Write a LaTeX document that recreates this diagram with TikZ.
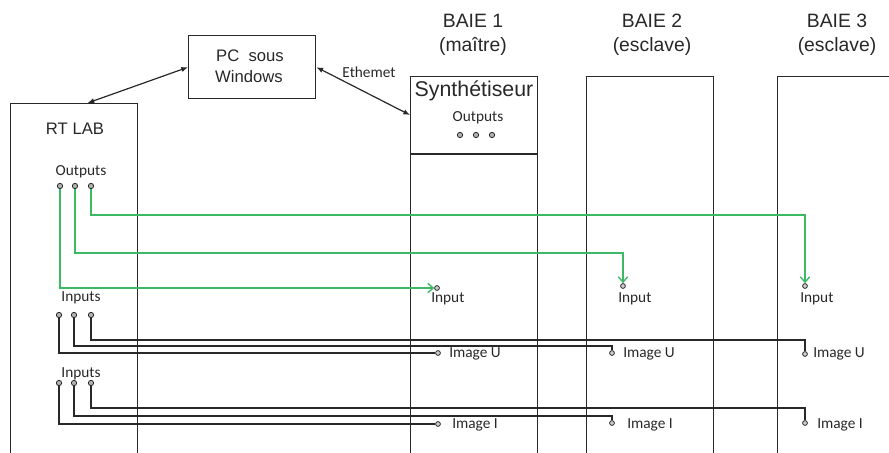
\documentclass[tikz,border=0pt]{standalone}
\usepackage{fontspec}
\setmainfont{Liberation Sans}
\newfontfamily\smallfont{Carlito}
\usetikzlibrary{arrows.meta}
\definecolor{wire}{RGB}{60,185,100}
\definecolor{ink}{RGB}{40,40,40}
\begin{document}
\begin{tikzpicture}[x=0.75pt,y=-0.75pt,
  box/.style={draw=ink, line width=1.1pt, inner sep=0pt, anchor=north west, minimum width=95.25pt},
  dot/.style={circle, draw=ink, fill=gray!60, line width=0.6pt, inner sep=0pt, minimum size=4pt},
  port/.style={circle, draw=ink, fill=gray!40, line width=0.6pt, inner sep=0pt, minimum size=3.6pt},
  big/.style={font=\fontsize{14.5pt}{17pt}\selectfont, text=ink, inner sep=0pt},
  mid/.style={font=\fontsize{12.5pt}{15pt}\selectfont, text=ink, inner sep=0pt},
  lbl/.style={font=\smallfont\fontsize{11.5pt}{13pt}\selectfont, text=ink, inner sep=0pt},
  link/.style={draw=ink, line width=0.9pt, {Latex[length=5pt,width=4pt]}-{Latex[length=5pt,width=4pt]}},
  gwire/.style={draw=wire, line width=1pt, -{Straight Barb[length=4pt,width=7pt]}},
  bwire/.style={draw=ink, line width=1pt}
]
\useasboundingbox (0,0) rectangle (889,453);
\clip (0,0) rectangle (889,453);

% boxes
\node[box, minimum height=47.25pt] (pc) at (188,35) {};
\node[box, minimum height=275.25pt] (rtlab) at (10,103) {};
\node[box, minimum height=295.5pt] (baie1) at (410,76) {};
\node[box, minimum height=295.5pt] (baie2) at (586,76) {};
\node[box, minimum height=295.5pt] (baie3) at (777,76) {};
\draw[draw=ink, line width=1pt] (baie1.west |- 0,154) coordinate (sl) -- (baie1.east |- 0,154) coordinate (sr);

% titles
\node[big, anchor=base] (t1) at (473,28) {BAIE 1};
\node[big, anchor=base] (t1b) at (473,52) {(maître)};
\node[big, anchor=base] (t2) at (652,28) {BAIE 2};
\node[big, anchor=base] (t2b) at (652,52) {(esclave)};
\node[big, anchor=base] (t3) at (837,28) {BAIE 3};
\node[big, anchor=base] (t3b) at (837,52) {(esclave)};

\node[font=\fontsize{16pt}{18pt}\selectfont, text=ink, inner sep=0pt, anchor=base] (syn) at (474,97) {Synthétiseur};
\node[lbl, anchor=base] (synout) at (478,122) {Outputs};
\node[dot] (s1) at (460,135) {};
\node[dot] (s2) at (476,135) {};
\node[dot] (s3) at (492,135) {};

\node[mid, anchor=base] (pc1) at (250,62) {PC\ \ sous};
\node[mid, anchor=base] (pc2) at (249,83) {Windows};
\node[mid, anchor=base] (rtl) at (75,134) {RT LAB};

% PC links
\draw[link] (pc.west) -- ([xshift=10pt]rtlab.north);
\draw[link] (pc.east) -- ([yshift=-29.25pt]baie1.north west);
\node[lbl, anchor=base] (eth) at (369,78) {Ethemet};

% RT LAB outputs
\node[lbl, anchor=base] (rtout) at (81,175) {Outputs};
\node[dot] (o1) at (60,186) {};
\node[dot] (o2) at (75,186) {};
\node[dot] (o3) at (91,186) {};

% inputs of baies
\node[port] (in1) at (437,288) {};
\node[port] (in2) at (623,286) {};
\node[port] (in3) at (805,286) {};
\node[lbl, anchor=base west] (il1) at (431,302) {Input};
\node[lbl, anchor=base west] (il2) at (618,302) {Input};
\node[lbl, anchor=base west] (il3) at (800,302) {Input};

\coordinate (g2) at (623,253);
\coordinate (g3) at (805,215);
\draw[gwire] (o1) |- (in1);
\draw[gwire] (o2) |- (g2) -- (in2);
\draw[gwire] (o3) |- (g3) -- (in3);

% Inputs group U
\node[lbl, anchor=base] (inU) at (81,301) {Inputs};
\node[dot] (u1) at (59,315) {};
\node[dot] (u2) at (74,315) {};
\node[dot] (u3) at (91,315) {};
\node[port] (iu1) at (438,353) {};
\node[port] (iu2) at (612,353) {};
\node[port] (iu3) at (805,354) {};
\coordinate (cu2) at (612,346);
\coordinate (cu3) at (805,340);
\draw[bwire] (u1) |- (iu1);
\draw[bwire] (u2) |- (cu2) -- (iu2);
\draw[bwire] (u3) |- (cu3) -- (iu3);
\node[lbl, anchor=base west] (lu1) at (449,357) {Image U};
\node[lbl, anchor=base west] (lu2) at (623,357) {Image U};
\node[lbl, anchor=base west] (lu3) at (813,357) {Image U};

% Inputs group I
\node[lbl, anchor=base] (inI) at (81,377) {Inputs};
\node[dot] (i1) at (59,383) {};
\node[dot] (i2) at (74,383) {};
\node[dot] (i3) at (91,383) {};
\node[port] (ii1) at (438,424) {};
\node[port] (ii2) at (612,423) {};
\node[port] (ii3) at (805,423) {};
\coordinate (ci2) at (612,416);
\coordinate (ci3) at (805,408);
\draw[bwire] (i1) |- (ii1);
\draw[bwire] (i2) |- (ci2) -- (ii2);
\draw[bwire] (i3) |- (ci3) -- (ii3);
\node[lbl, anchor=base west] (li1) at (452,428) {Image I};
\node[lbl, anchor=base west] (li2) at (627,428) {Image I};
\node[lbl, anchor=base west] (li3) at (817,428) {Image I};
\end{tikzpicture}
\end{document}
